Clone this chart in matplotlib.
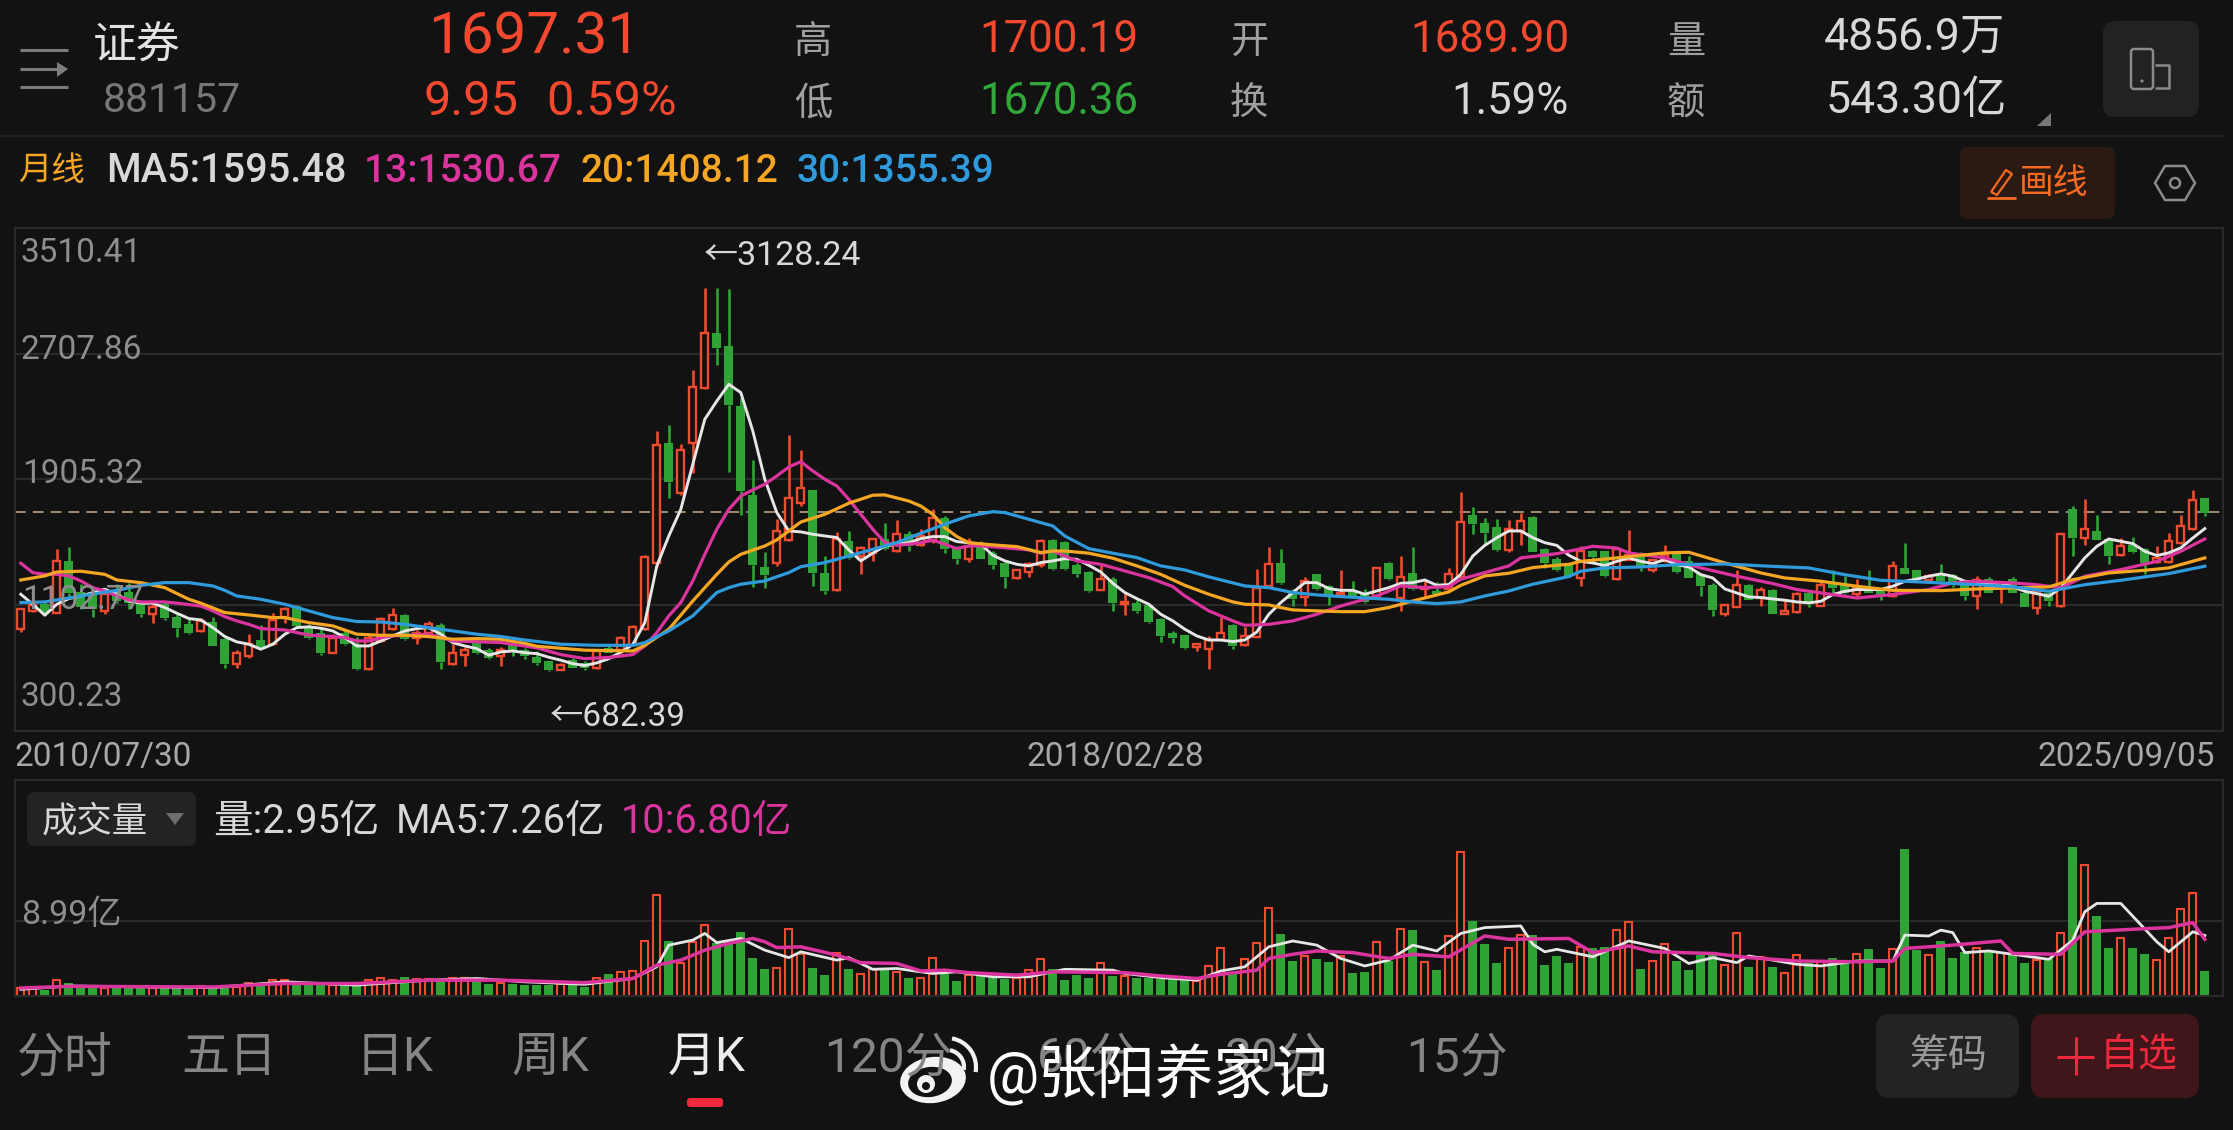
import numpy as np
import matplotlib
matplotlib.use("Agg")
import matplotlib.pyplot as plt
from matplotlib.patches import FancyBboxPatch, Ellipse, Arc, Polygon, Circle

plt.rcParams['font.family'] = ['Roboto', 'Noto Sans CJK SC', 'DejaVu Sans']

# 月K数据, 2010/07 - 2025/09
opens = [954,1065,1109,1056,1386,1190,1175,1067,1190,1190,1109,1045,1109,1030,981,939,996,890,726,779,
         881,854,1030,1098,970,928,800,928,854,695,875,954,1039,896,928,977,730,784,860,818,
         780,860,820,770,745,692,756,735,703,830,815,850,952,1373,2138,1820,2138,2490,2840,2755,
         2372,1809,1349,1370,1519,1753,1839,1311,1198,1513,1417,1439,1524,1450,1560,1485,1513,1662,1470,1400,
         1502,1439,1375,1275,1315,1358,1517,1507,1358,1315,1200,1273,1110,1120,1103,1013,924,911,839,826,
         881,975,850,903,1226,1375,1194,1158,1300,1226,1167,1194,1173,1162,1375,1147,1307,1205,1194,1209,
         1285,1677,1630,1604,1454,1577,1668,1464,1400,1364,1276,1452,1447,1270,1394,1436,1326,1384,1432,1384,
         1305,1235,1047,1092,1235,1150,1198,1047,1058,1181,1100,1245,1241,1177,1213,1192,1160,1341,1326,1266,
         1298,1298,1245,1160,1270,1224,1273,1183,1087,1183,1100,1717,1532,1575,1526,1426,1490,1462,1377,1377,
         1500,1590,1787]
highs = [1081,1130,1125,1460,1477,1240,1190,1200,1240,1245,1120,1109,1130,1045,1013,1024,1030,895,818,918,
         977,1052,1094,1105,985,950,920,945,900,910,1030,1088,1045,945,1003,990,854,835,880,830,
         835,870,830,810,750,735,765,745,825,845,905,975,1425,2213,2255,2130,2606,3128.24,3128,3118,
         2425,2030,1443,1656,2187,2092,1839,1417,1573,1577,1480,1535,1630,1647,1575,1588,1715,1670,1480,1535,
         1510,1450,1380,1337,1380,1525,1525,1515,1370,1320,1358,1280,1184,1137,1110,1020,939,915,856,907,
         1030,980,967,1337,1477,1464,1205,1286,1305,1235,1328,1258,1205,1350,1380,1417,1475,1258,1250,1343,
         1826,1732,1662,1656,1647,1694,1670,1470,1410,1370,1482,1455,1450,1470,1585,1440,1400,1490,1435,1420,
         1310,1245,1112,1330,1240,1220,1205,1135,1190,1200,1266,1330,1290,1270,1330,1215,1383,1500,1330,1305,
         1365,1305,1250,1287,1280,1258,1280,1190,1200,1190,1562,1735,1780,1680,1530,1532,1540,1470,1479,1565,
         1681,1837,1790]
lows = [933,1060,1050,1056,1160,1080,1030,1050,1120,1080,1028,992,1009,903,920,930,843,705,700,768,
        830,850,988,960,890,784,800,850,692,688,870,945,880,853,920,694,720,715,790,760,
        715,780,760,720,682.39,690,700,690,695,795,800,845,945,1350,1785,1805,1945,2480,2635,1950,
        1680,1220,1215,1353,1513,1736,1226,1177,1195,1400,1300,1386,1455,1440,1450,1480,1500,1435,1365,1379,
        1398,1337,1215,1270,1280,1350,1330,1330,1280,1190,1198,1066,1039,1056,990,869,864,826,811,694,
        878,826,845,900,1220,1240,1098,1098,1200,1103,1160,1148,1118,1145,1265,1066,1200,1152,1168,1200,
        1280,1556,1488,1450,1445,1485,1440,1340,1320,1285,1228,1365,1285,1265,1390,1320,1318,1380,1310,1275,
        1160,1033,1037,1090,1135,1095,1045,1045,1055,1090,1097,1175,1175,1158,1178,1138,1158,1300,1262,1255,
        1250,1220,1135,1078,1178,1120,1180,1090,1045,1100,1092,1420,1490,1518,1366,1420,1438,1303,1375,1375,
        1495,1585,1670]
closes = [1081,1102,1056,1386,1183,1090,1080,1172,1130,1120,1045,1094,1024,960,928,1003,843,726,796,853,
          833,1009,1081,970,896,796,896,854,698,896,1018,1039,886,928,980,740,796,820,796,769,
          820,810,780,735,688,724,703,700,809,798,894,964,1411,2128,1888,2096,2496,2840,2745,2383,
          1830,1362,1294,1577,1785,1849,1307,1194,1528,1407,1471,1524,1460,1560,1481,1545,1658,1460,1400,1481,
          1400,1358,1283,1328,1364,1513,1334,1337,1300,1194,1273,1115,1123,1067,996,907,896,832,854,880,
          924,843,907,1215,1364,1243,1141,1258,1205,1162,1183,1152,1124,1343,1269,1284,1205,1222,1173,1300,
          1636,1620,1566,1456,1588,1641,1443,1375,1328,1290,1447,1412,1288,1460,1426,1341,1394,1426,1313,1277,
          1224,1071,1107,1235,1139,1203,1047,1069,1175,1113,1235,1213,1181,1213,1181,1160,1352,1303,1266,1290,
          1256,1235,1165,1266,1181,1245,1183,1092,1192,1130,1558,1532,1590,1522,1415,1479,1441,1373,1405,1511,
          1611,1777,1692]

# 均线 MA5 每月读数, 其余隔几个月读一次
ma5 = [1173,1109,1039,1109,1145,1162,1183,1205,1173,1130,1116,1116,1088,1052,1018,1009,960,903,869,854,
       822,854,918,960,965,956,939,896,843,843,875,907,939,954,960,918,864,843,826,784,
       805,811,800,794,771,752,730,718,735,762,803,852,992,1354,1545,1715,2002,2290,2406,2513,
       2460,2215,1907,1694,1577,1571,1556,1545,1535,1456,1386,1435,1481,1492,1502,1528,1541,1541,1509,1502,
       1492,1422,1386,1364,1354,1375,1386,1400,1396,1358,1315,1243,1184,1145,1109,1045,1003,950,907,881,
       881,871,881,932,1045,1120,1184,1247,1247,1209,1198,1198,1173,1194,1215,1243,1247,1264,1230,1235,
       1300,1417,1485,1534,1577,1577,1534,1502,1485,1422,1383,1373,1356,1383,1405,1383,1369,1394,1362,1347,
       1298,1277,1207,1181,1156,1152,1143,1135,1124,1118,1128,1171,1192,1203,1203,1203,1224,1256,1270,1288,
       1303,1288,1256,1245,1245,1245,1220,1192,1177,1160,1213,1309,1405,1479,1526,1511,1496,1447,1420,1437,
       1469,1532,1592]
ma13_x = [0,1,2,3,4,5,6,7,8,9,10,12,13,14,15,16,17,18,19,20,21,22,23,24,25,26,27,28,29,30,31,34,36,38,40,43,45,47,49,51,
          52,53,54,55,56,57,58,59,60,61,62,63,64,65,66,67,68,69,70,71,72,73,74,75,76,77,78,79,80,82,84,85,
          86,88,90,92,94,96,97,99,101,102,104,106,108,110,112,113,115,117,119,120,122,124,125,128,131,133,134,137,
          140,143,146,148,151,153,156,159,161,163,166,168,170,172,175,178,180,182]
ma13 = [1371,1311,1300,1300,1290,1258,1215,1194,1162,1137,1124,1124,1116,1107,1098,1067,1030,1003,981,954,949,945,928,913,907,903,896,875,875,896,907,918,875,870,865,831,788,762,770,788,
        843,928,1035,1120,1258,1428,1588,1715,1800,1839,1875,1928,1985,2019,1960,1907,1864,1779,1683,1588,1503,1486,1492,1502,1519,1492,1464,1481,1481,1470,1456,1435,
        1449,1386,1364,1322,1279,1222,1162,1067,1003,975,981,1003,1045,1098,1141,1162,1226,1215,1222,1269,1311,1354,1405,1432,1479,1468,1437,1405,
        1341,1288,1241,1203,1171,1149,1171,1203,1245,1256,1245,1234,1213,1288,1330,1383,1447,1526]
ma20_x = [0,2,3,5,7,8,10,12,14,15,17,19,21,22,24,26,28,30,32,34,36,38,40,42,43,47,51,52,54,56,58,59,60,62,63,65,67,69,71,72,74,75,76,77,78,79,81,83,85,
          86,87,89,91,93,95,97,99,101,102,104,105,106,108,110,112,114,116,119,120,122,124,126,128,129,
          130,133,137,139,142,145,147,150,153,156,160,163,166,169,171,174,177,179,182]
ma20 = [1264,1290,1315,1320,1300,1264,1247,1215,1141,1116,1056,1041,1024,1024,992,971,918,911,911,903,886,890,886,860,841,816,811,847,949,1130,1300,1379,1428,1481,1520,1634,1683,1754,1805,1807,1768,1736,1683,1598,1541,1502,1488,1477,1439,
        1449,1449,1435,1403,1354,1300,1230,1173,1124,1109,1105,1088,1073,1067,1062,1062,1088,1130,1188,1230,1290,1307,1343,1358,1364,
        1383,1405,1437,1441,1373,1309,1277,1256,1224,1198,1196,1207,1213,1220,1266,1309,1326,1341,1405]
ma30_x = [0,2,5,8,10,12,14,16,17,18,20,22,24,26,28,30,32,34,36,38,40,42,45,48,51,52,54,56,58,59,60,62,64,65,67,69,71,73,75,77,79,81,82,83,85,
          86,87,89,91,93,95,97,99,102,104,106,108,110,114,116,118,120,122,124,126,129,
          130,132,135,138,142,146,149,152,155,159,163,166,169,172,175,179,182]
ma30 = [1120,1124,1162,1198,1230,1247,1247,1226,1198,1162,1141,1109,1067,1024,999,996,981,960,939,918,903,881,854,847,847,864,939,1035,1184,1215,1237,1258,1311,1349,1375,1417,1460,1503,1562,1620,1673,1700,1694,1673,1630,
        1609,1545,1464,1435,1407,1354,1328,1284,1226,1215,1184,1169,1158,1141,1124,1113,1124,1162,1194,1237,1286,
        1320,1341,1347,1362,1366,1351,1341,1298,1262,1249,1234,1220,1192,1234,1262,1305,1352]

# 成交量(亿)
volume = [1.0,1.0,0.7,1.9,1.6,1.2,1.1,1.0,1.0,1.0,0.9,0.9,0.9,1.2,1.2,1.2,1.1,1.1,1.1,1.5,
          1.4,1.9,1.9,1.4,1.4,1.4,1.3,1.3,1.2,1.9,2.1,1.9,2.3,2.0,2.0,2.0,2.2,2.2,2.0,
          1.4,1.6,1.4,1.3,1.3,1.3,1.4,1.3,1.1,2.1,2.6,2.9,3.0,6.6,12.1,6.6,3.9,6.5,8.5,6.4,
          6.7,7.7,4.6,3.2,3.3,8.0,5.0,3.3,2.5,5.1,3.2,2.6,3.2,3.2,2.9,2.1,2.2,4.6,2.6,1.8,
          2.5,2.4,2.1,2.0,2.1,3.1,4.4,3.2,1.9,2.5,2.1,3.9,2.4,2.4,2.1,2.1,2.0,2.0,1.9,1.8,3.6,
          5.7,2.7,4.4,6.3,10.6,7.4,4.2,4.8,4.4,4.1,4.8,2.8,2.9,6.5,4.2,8.0,7.9,4.1,3.1,7.2,
          17.3,9.0,6.2,3.9,5.7,7.3,7.3,3.7,4.8,4.0,5.9,5.8,5.9,7.9,8.9,3.2,4.2,6.2,4.2,3.1,
          4.9,4.9,3.7,7.6,3.5,4.7,3.5,2.8,4.9,3.9,4.2,4.5,4.0,5.0,5.6,3.3,5.6,17.6,5.5,4.9,
          6.6,4.5,5.3,5.7,5.3,5.2,5.1,3.9,4.3,4.5,7.6,17.9,15.7,9.6,5.7,6.9,5.8,5.0,4.3,7.0,
          10.4,12.3,2.95]
vol_ma5_x = [0,4,16,22,28,34,38,42,47,51,53,54,56,57,58,60,62,64,65,68,69,71,73,76,78,81,84,87,91,
             92,95,98,100,102,104,106,108,110,112,114,116,118,120,122,125,126,127,128,131,134,137,139,141,143,144,148,150,153,156,157,159,160,161,162,164,166,169,171,172,173,175,178,179,181,182]
vol_ma5 = [0.8,1.2,1.0,1.7,1.3,1.9,2.1,1.7,1.4,2.1,3.5,6.1,6.7,7.5,6.4,6.9,5.5,4.6,5.3,4.3,4.6,3.2,3.3,2.7,2.9,2.3,2.3,3.2,3.1,
           2.7,2.2,1.9,3.0,3.5,5.9,6.6,6.1,4.5,3.6,4.3,6.1,5.4,7.5,8.2,8.4,6.2,5.3,5.6,4.7,6.6,5.7,3.9,4.6,4.0,4.8,3.8,3.6,4.2,4.2,7.3,7.2,7.9,7.6,5.2,5.4,5.0,4.4,6.7,10.1,11.1,11.1,6.5,5.3,7.7,7.26]
vol_ma10_x = [0,4,16,22,28,34,40,47,51,53,55,57,59,61,62,63,65,68,70,73,75,77,79,83,86,92,
              95,98,100,103,104,106,108,111,114,116,119,122,124,129,131,134,136,141,144,148,153,156,157,161,165,166,170,172,176,179,181,182]
vol_ma10 = [0.96,1.16,1.08,1.5,1.5,1.9,1.9,1.6,2.1,3.7,4.3,5.5,6.3,6.9,6.5,5.8,5.9,4.9,4.0,3.9,3.0,3.1,2.8,2.5,2.9,2.8,
            2.4,2.1,2.6,3.1,4.5,5.0,5.4,5.2,4.5,5.0,4.7,7.2,6.8,6.9,5.2,6.0,5.3,5.1,4.6,4.2,4.1,4.2,5.7,6.1,6.6,5.1,5.0,7.7,8.0,8.2,8.8,6.8]

last_price = 1697.31
price_ticks = [2707.86, 1905.32, 1102.77]
vol_tick = 8.99

RED = "#EE4B30"
GREEN = "#2FA336"
BG = "#121212"
GRID = "#2b2b2b"
WHITE_LINE = "#E6E6E6"
MAGENTA = "#DB349E"
ORANGE = "#F5A623"
BLUE = "#2F9BDD"
GRAY = "#8E8E8E"
LIGHT = "#D8D8D8"

W, H = 2233, 1130
fig = plt.figure(figsize=(W / 100, H / 100), dpi=100, facecolor=BG)


def px_axes(x0, y0, x1, y1):
    return fig.add_axes([x0 / W, 1 - y1 / H, (x1 - x0) / W, (y1 - y0) / H], facecolor=BG)


n = len(closes)
xs = np.arange(n)
xlim = ((15 - 20.8) / 12, (2222.5 - 20.8) / 12)

# K线
ax = px_axes(15, 228, 2222.5, 731)
ax.set_xlim(*xlim)
ax.set_ylim(300.23, 3510.41)
for t in price_ticks:
    ax.axhline(t, color=GRID, lw=1.5, zorder=1)
ax.axhline(last_price, color="#B9A27E", lw=1.2, dashes=(6.5, 4.2), zorder=1.5)

for i in range(n):
    top, bot = max(opens[i], closes[i]), min(opens[i], closes[i])
    col = RED if closes[i] >= opens[i] else GREEN
    ax.vlines(i, top, highs[i], color=col, lw=1.9, zorder=2)
    ax.vlines(i, lows[i], bot, color=col, lw=1.9, zorder=2)
    if col == RED:
        ax.bar(i, top - bot, bottom=bot, width=0.58, facecolor=BG, edgecolor=RED, lw=1.7, zorder=2.5)
    else:
        ax.bar(i, top - bot, bottom=bot, width=0.76, color=GREEN, lw=0, zorder=2.5)

ax.plot(xs, ma5, color=WHITE_LINE, lw=2.1, zorder=3)
ax.plot(ma13_x, ma13, color=MAGENTA, lw=2.3, zorder=3.1)
ax.plot(ma20_x, ma20, color=ORANGE, lw=2.3, zorder=3.2)
ax.plot(ma30_x, ma30, color=BLUE, lw=2.3, zorder=3.3)
ax.set_xticks([])
ax.set_yticks([])
for s in ax.spines.values():
    s.set_color(GRID)
    s.set_linewidth(1.5)

# 成交量
ax2 = px_axes(15, 780, 2222.5, 996)
ax2.set_xlim(*xlim)
ax2.set_ylim(0, 25.9)
ax2.axhline(vol_tick, color=GRID, lw=1.5, zorder=1)
for i in range(n):
    if closes[i] >= opens[i]:
        ax2.bar(i, volume[i], width=0.6, facecolor=BG, edgecolor=RED, lw=1.5, zorder=2)
    else:
        ax2.bar(i, volume[i], width=0.76, color=GREEN, lw=0, zorder=2)
ax2.plot(vol_ma5_x, vol_ma5, color=WHITE_LINE, lw=2.0, zorder=3)
ax2.plot(vol_ma10_x, vol_ma10, color=MAGENTA, lw=2.5, zorder=3.1)
ax2.set_xticks([])
ax2.set_yticks([])
for s in ax2.spines.values():
    s.set_color(GRID)
    s.set_linewidth(1.5)

# 界面文字和图标, 坐标用像素
ui = fig.add_axes([0, 0, 1, 1], facecolor="none", zorder=10)
ui.set_xlim(0, W)
ui.set_ylim(H, 0)
ui.axis("off")


def txt(x, y, s, size, color, ha="left", **kw):
    ui.text(x, y, s, fontsize=size, color=color, ha=ha, va="center", **kw)


def box(x0, y0, x1, y1, color, r=12):
    ui.add_patch(FancyBboxPatch((x0, y0), x1 - x0, y1 - y0, boxstyle=f"round,pad=0,rounding_size={r}",
                                fc=color, ec="none"))


def seg(xa, ya, color, lw):
    ui.plot(xa, ya, color=color, lw=lw, solid_capstyle="butt")


ui.plot([0, 2223], [136, 136], color="#222222", lw=1.5)

# 顶部
for yy, xe in [(50, 68), (69, 58), (87, 68)]:
    seg([20, xe], [yy, yy], "#7c7c7c", 2.2)
ui.add_patch(Polygon([[57, 62], [68, 69], [57, 77]], fc="#7c7c7c", ec="none"))
txt(137, 47, "证券", 31.5, "#E2E2E2", ha="center", weight="medium")
txt(103, 100, "881157", 29.5, "#777777")
txt(428, 38, "1697.31", 42, "#F5492F")
txt(424, 102, "9.95", 35, "#F5492F")
txt(546, 102, "0.59%", 35, "#F5492F")
txt(813, 42, "高", 27.5, "#A0A0A0", ha="center")
txt(813, 104, "低", 27.5, "#A0A0A0", ha="center")
txt(979, 40, "1700.19", 31.5, "#F5492F")
txt(979, 102, "1670.36", 31.5, "#32A83A")
txt(1249, 42, "开", 27.5, "#A0A0A0", ha="center")
txt(1249, 104, "换", 27.5, "#A0A0A0", ha="center")
txt(1569, 40, "1689.90", 31.5, "#F5492F", ha="right")
txt(1569, 102, "1.59%", 31.5, LIGHT, ha="right")
txt(1686, 42, "量", 27.5, "#A0A0A0", ha="center")
txt(1686, 104, "额", 27.5, "#A0A0A0", ha="center")
txt(2005, 38, "4856.9万", 32, LIGHT, ha="right")
txt(2007, 101, "543.30亿", 32, LIGHT, ha="right")
ui.add_patch(Polygon([[2051, 113], [2051, 126], [2037, 126]], fc="#777777", ec="none"))
box(2103, 21, 2199, 117, "#222222", 12)
ui.add_patch(FancyBboxPatch((2131, 49), 22, 40, boxstyle="round,pad=0,rounding_size=3", fc="none", ec="#8a8a8a", lw=1.8))
ui.add_patch(Circle((2142, 81), 1.6, fc="#8a8a8a", ec="none"))
seg([2155, 2169, 2169, 2155], [65, 65, 88, 88], "#8a8a8a", 1.8)

# 均线标题
txt(18, 171, "月线", 24, ORANGE)
txt(106, 171, "MA5:1595.48", 28.5, LIGHT, weight="medium")
txt(364, 171, "13:1530.67", 28, MAGENTA, weight="medium")
txt(580, 171, "20:1408.12", 28, ORANGE, weight="medium")
txt(796, 171, "30:1355.39", 28, BLUE, weight="medium")
box(1960, 147, 2115, 219, "#2A1A12", 8)
seg([1987, 2016], [198, 198], "#F26B21", 2)
seg([1991, 2006, 2012, 1997, 1991], [192, 170, 174, 195, 192], "#F26B21", 1.6)
txt(2054, 183, "画线", 25, "#F26B21", ha="center")
ui.add_patch(Polygon([[2155, 183], [2165, 166], [2185, 166], [2195, 183], [2185, 200], [2165, 200]],
                     fc="none", ec="#8a8a8a", lw=1.8))
ui.add_patch(Circle((2175, 183), 5, fc="none", ec="#8a8a8a", lw=1.8))

# 坐标文字
txt(21, 253, "3510.41", 24, GRAY)
txt(21, 350, "2707.86", 24, GRAY)
txt(22, 474, "1905.32", 24, GRAY)
txt(22, 600, "1102.77", 24, GRAY)
txt(21, 697, "300.23", 24, GRAY)
txt(704, 256, "←3128.24", 24.5, LIGHT)
txt(550, 717, "←682.39", 24, LIGHT)
txt(15, 757, "2010/07/30", 24, "#A8A8A8")
txt(1115, 757, "2018/02/28", 24, "#A8A8A8", ha="center")
txt(2215, 757, "2025/09/05", 24, "#A8A8A8", ha="right")

# 成交量标题
box(27, 792, 196, 846, "#232323", 8)
txt(42, 822, "成交量", 25.5, LIGHT)
ui.add_patch(Polygon([[166, 813], [184, 813], [175, 825]], fc="#6e6e6e", ec="none"))
txt(213, 822, "量:2.95亿", 28.5, LIGHT)
txt(396, 822, "MA5:7.26亿", 28.5, LIGHT)
txt(621, 822, "10:6.80亿", 28.5, MAGENTA)
txt(21, 915, "8.99亿", 24.5, GRAY)

# 底部周期
tab_x = [65, 229, 395, 550, 707, 888, 1088, 1276, 1457]
tab_labels = ["分时", "五日", "日K", "周K", "月K", "120分", "60分", "30分", "15分"]
for tx, lb in zip(tab_x, tab_labels):
    txt(tx, 1058, lb, 34.5, "#EDEDED" if lb == "月K" else "#858585", ha="center")
box(687, 1098, 723, 1107, "#F0283C", 3)
box(1876, 1014, 2019, 1098, "#232323", 14)
txt(1948, 1056, "筹码", 28, "#999999", ha="center")
box(2031, 1014, 2199, 1098, "#40161B", 14)
seg([2057, 2094], [1057, 1057], "#F0283C", 2.2)
seg([2076, 2076], [1037, 1075], "#F0283C", 2.2)
txt(2139, 1056, "自选", 28, "#F0283C", ha="center")

# 微博水印
ui.add_patch(Ellipse((933, 1080), 66, 46, angle=-8, fc="#F2F2F2", ec="none"))
ui.add_patch(Ellipse((930, 1082), 44, 30, angle=-8, fc=BG, ec="none"))
ui.add_patch(Circle((926, 1084), 9, fc="#F2F2F2", ec="none"))
ui.add_patch(Circle((926, 1086), 4, fc=BG, ec="none"))
ui.add_patch(Arc((947, 1067), 34, 34, theta1=-80, theta2=10, color="#F2F2F2", lw=3))
ui.add_patch(Arc((947, 1067), 58, 58, theta1=-80, theta2=10, color="#F2F2F2", lw=3))
txt(987, 1075, "@张阳养家记", 42, "#FFFFFF")

fig.savefig("out.png", dpi=100, facecolor=BG)
